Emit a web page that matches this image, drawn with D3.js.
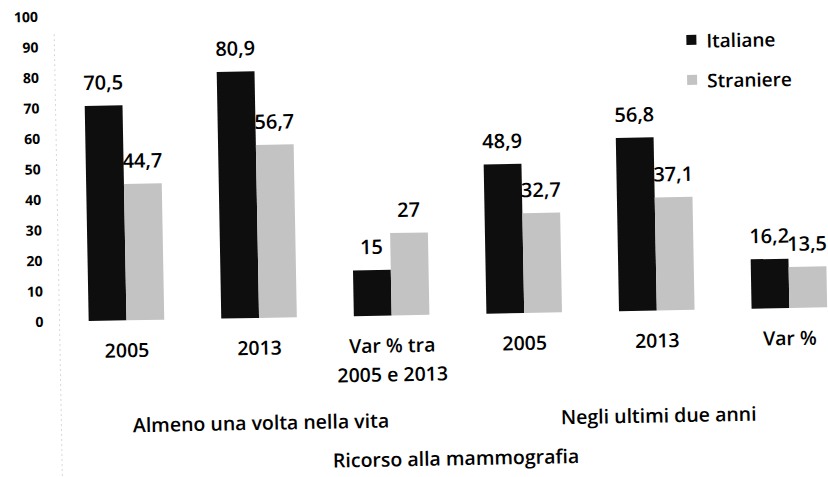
<!DOCTYPE html>
<html>
<head>
<meta charset="utf-8">
<script src="https://cdn.jsdelivr.net/npm/d3@7"></script>
<style>
  html, body { margin: 0; padding: 0; background: #fff; }
  svg { display: block; }
  text { font-family: "Open Sans", "DejaVu Sans", sans-serif; fill: #000; }
</style>
</head>
<body>
<svg id="chart" width="828" height="477"></svg>
<script>
// ---- data ----
const categories = ["2005", "2013", "Var % tra\n2005 e 2013", "2005", "2013", "Var %"];
const seriesNames = ["Italiane", "Straniere"];
const italiane = [70.5, 80.9, 15, 48.9, 56.8, 16.2];
const straniere = [44.7, 56.7, 27, 32.7, 37.1, 13.5];
const valueLabels = {
  Italiane: ["70,5", "80,9", "15", "48,9", "56,8", "16,2"],
  Straniere: ["44,7", "56,7", "27", "32,7", "37,1", "13,5"]
};
const groupLabels = ["Almeno una volta nella vita", "Negli ultimi due anni"];
const groupSpans = [[0, 2], [3, 5]];
const axisTitle = "Ricorso alla mammografia";
const yTicks = [0, 10, 20, 30, 40, 50, 60, 70, 80, 90, 100];

// ---- layout ----
const svg = d3.select("#chart");
const g = svg.append("g").attr("transform", "rotate(-1.06, 414, 238)");

const colors = { Italiane: "#0e0e0e", Straniere: "#c3c3c3" };

const y = d3.scaleLinear().domain([0, 100]).range([315, 10]);
const x0 = d3.scaleBand().domain(d3.range(categories.length))
  .range([58.7, 854.3]).paddingInner(0.43).paddingOuter(0.215);
const x1 = d3.scaleBand().domain(seriesNames).range([0, x0.bandwidth()]);

// faint dotted vertical line (scan artifact of the axis)
g.append("line")
  .attr("x1", 58).attr("x2", 58).attr("y1", 28).attr("y2", 490)
  .attr("stroke", "#b0b0b0").attr("stroke-width", 1)
  .attr("stroke-dasharray", "1,4");

// y axis
const yAxis = d3.axisLeft(y).tickValues(yTicks).tickSize(0).tickPadding(0);
const ya = g.append("g").attr("transform", "translate(42,0)").call(yAxis);
ya.select(".domain").remove();
ya.selectAll("text")
  .style("font-family", "'Open Sans', sans-serif")
  .style("font-size", "14px").style("font-weight", "700").attr("fill", "#000");

// bars
const data = seriesNames.map(s => ({ name: s, values: s === "Italiane" ? italiane : straniere }));
data.forEach(s => {
  const sg = g.append("g");
  sg.selectAll("rect").data(s.values).join("rect")
    .attr("x", (d, i) => x0(i) + x1(s.name))
    .attr("y", d => y(d))
    .attr("width", x1.bandwidth())
    .attr("height", d => y(0) - y(d))
    .attr("fill", colors[s.name]);
  sg.selectAll("text").data(s.values).join("text")
    .attr("x", (d, i) => x0(i) + x1(s.name) + x1.bandwidth() / 2)
    .attr("y", d => y(d) - 16)
    .attr("text-anchor", "middle")
    .style("font-size", "20px").style("font-weight", "600")
    .text((d, i) => valueLabels[s.name][i]);
});

// category labels
categories.forEach((c, i) => {
  const lines = c.split("\n");
  const t = g.append("text")
    .attr("text-anchor", "middle")
    .style("font-size", "19.5px").style("font-weight", "600");
  lines.forEach((ln, j) => {
    t.append("tspan")
      .attr("x", x0(i) + x0.bandwidth() / 2)
      .attr("y", 352 + j * 29)
      .text(ln);
  });
});

// group labels
groupLabels.forEach((lab, k) => {
  const [a, b] = groupSpans[k];
  const cx = (x0(a) + x0(b) + x0.bandwidth()) / 2;
  g.append("text")
    .attr("x", cx).attr("y", 427)
    .attr("text-anchor", "middle")
    .style("font-size", "19.5px").style("font-weight", "600")
    .text(lab);
});

g.append("text")
  .attr("x", 452).attr("y", 466)
  .attr("text-anchor", "middle")
  .style("font-size", "19.5px").style("font-weight", "600")
  .text(axisTitle);

// legend
const legend = g.append("g");
seriesNames.forEach((s, i) => {
  legend.append("rect")
    .attr("x", 690).attr("y", 40 + i * 40)
    .attr("width", 10).attr("height", 10)
    .attr("fill", colors[s]);
  legend.append("text")
    .attr("x", 710).attr("y", 53 + i * 40)
    .style("font-size", "19px").style("font-weight", "600")
    .text(s);
});
</script>
</body>
</html>
